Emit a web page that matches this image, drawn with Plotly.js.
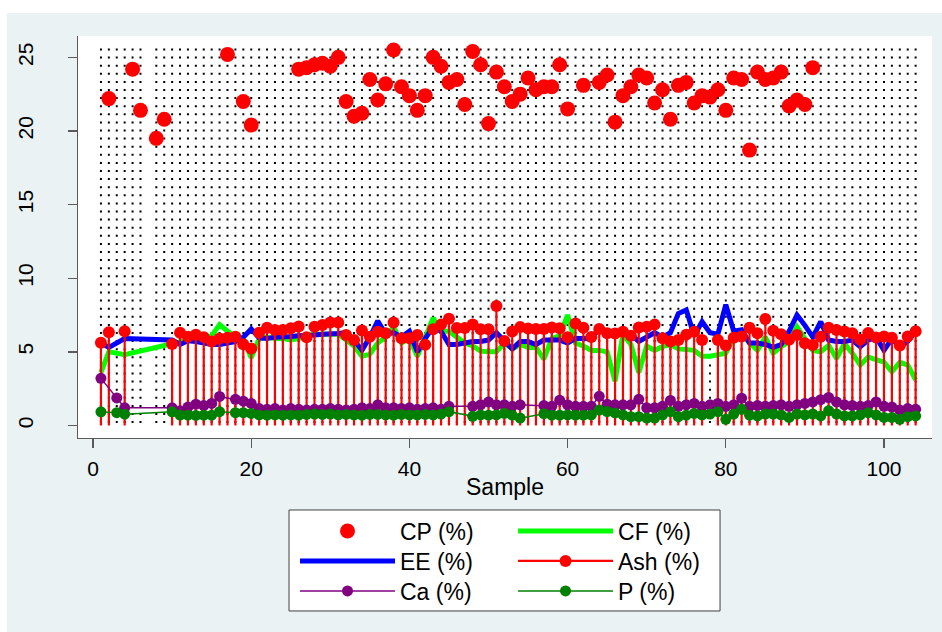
<!DOCTYPE html>
<html><head><meta charset="utf-8">
<script src="https://cdn.plot.ly/plotly-3.0.1.min.js"></script>
<style>
html,body{margin:0;padding:0;background:#fff;}
#chart{position:absolute;left:7px;top:13px;width:935px;height:619px;}
</style></head><body><div id="chart"></div>
<script>
const samples = [
1,2,3,4,5,6,7,8,9,10,11,12,13,14,15,16,17,18,19,20,
21,22,23,24,25,26,27,28,29,30,31,32,33,34,35,36,37,38,39,40,
41,42,43,44,45,46,47,48,49,50,51,52,53,54,55,56,57,58,59,60,
61,62,63,64,65,66,67,68,69,70,71,72,73,74,75,76,77,78,79,80,
81,82,83,84,85,86,87,88,89,90,91,92,93,94,95,96,97,98,99,100,
101,102,103,104];

const CP = [
null,22.2,null,null,24.2,21.4,null,19.5,20.8,null,
null,null,null,null,null,null,25.2,null,22.0,20.4,
null,null,null,null,null,24.2,24.3,24.5,24.6,24.4,
25.0,22.0,21.0,21.2,23.5,22.1,23.2,25.5,23.0,22.4,
21.4,22.4,25.0,24.4,23.3,23.5,21.8,25.4,24.5,20.5,
24.0,23.0,22.0,22.5,23.6,22.8,23.0,23.0,24.5,21.5,
null,23.1,null,23.3,23.8,20.6,22.4,23.0,23.8,23.6,
21.9,22.8,20.8,23.1,23.3,21.9,22.4,22.3,22.8,21.4,
23.6,23.5,18.7,24.0,23.5,23.6,24.0,21.7,22.1,21.8,
24.3,null,null,null,null,null,null,null,null,null,
null,null,null,null];

const CF = [
3.6,5.0,null,4.8,null,null,null,null,null,5.5,
5.7,5.8,5.8,5.9,6.1,6.85,6.4,6.0,5.9,4.6,
5.9,6.0,5.9,5.9,5.8,5.9,6.1,6.2,6.2,6.2,
6.2,5.8,5.4,4.7,4.85,5.6,6.0,6.7,5.6,5.9,
4.7,6.0,7.3,6.4,6.4,6.0,5.6,5.4,5.05,5.0,
5.0,5.6,5.2,5.5,5.3,5.3,4.5,5.9,6.1,7.5,
5.6,5.4,5.1,5.1,5.0,3.0,6.2,5.5,3.6,5.4,
5.1,5.35,5.5,5.2,5.15,5.1,4.7,4.7,4.8,4.9,
6.0,6.2,5.6,5.1,6.0,4.9,5.35,5.7,6.7,5.9,
5.1,5.0,5.45,4.55,5.55,4.9,4.1,4.65,4.45,4.3,
3.65,4.3,4.1,3.1];

const EE = [
5.6,5.3,null,5.9,null,null,null,null,null,5.8,
5.5,5.75,5.7,5.6,5.5,5.5,5.6,5.7,6.0,6.55,
5.95,5.9,6.0,6.0,6.05,6.1,6.1,6.15,6.2,6.2,
6.25,6.3,5.8,5.1,6.0,7.1,6.2,6.3,6.0,6.4,
5.0,5.9,6.7,6.4,5.5,5.5,5.6,5.7,5.7,5.8,
6.3,5.8,5.2,5.7,5.7,5.5,5.8,5.8,5.8,5.6,
5.9,5.9,5.9,6.6,6.4,6.2,6.3,6.2,5.7,6.05,
6.3,6.0,6.3,7.6,7.85,6.1,7.05,6.3,6.2,8.2,
6.4,6.5,5.6,5.6,5.5,5.3,5.5,6.4,7.5,6.8,
6.0,7.05,5.8,5.7,5.7,5.8,5.35,5.8,6.0,5.1,
5.9,5.3,5.7,6.4];

const Ash = [
5.62,6.33,null,6.4,null,null,null,null,null,5.53,
6.3,6.03,6.16,6.0,5.7,5.9,5.96,6.02,5.52,5.23,
6.29,6.63,6.49,6.49,6.6,6.72,5.99,6.7,6.82,7.0,
7.0,6.14,5.8,6.45,6.03,6.37,6.26,7.0,5.92,5.92,
6.14,5.48,6.53,6.85,7.25,6.62,6.62,6.86,6.54,6.54,
8.12,5.74,6.38,6.68,6.58,6.55,6.55,6.66,6.6,5.99,
6.92,6.64,6.01,6.55,6.27,6.25,6.37,6.1,6.65,6.7,
6.85,5.92,5.7,5.8,6.17,6.37,5.8,null,5.8,5.43,
5.96,6.05,6.63,6.26,7.23,6.44,6.2,5.82,6.14,5.58,
5.46,6.03,6.63,6.48,6.39,6.26,5.82,6.28,5.97,6.05,
5.96,5.43,6.05,6.4];

const Ca = [
3.2,null,1.87,1.2,null,null,null,null,null,1.2,
1.0,1.25,1.45,1.35,1.5,1.97,null,1.78,1.65,1.5,
1.15,1.1,1.15,1.05,1.15,1.1,1.05,1.1,1.1,1.15,
1.1,1.05,1.1,1.2,1.15,1.4,1.2,1.2,1.15,1.2,
1.1,1.15,1.2,1.1,1.3,null,null,1.3,1.4,1.6,
1.4,1.4,1.3,1.4,null,null,1.35,1.3,1.72,1.4,
1.3,1.3,1.3,1.98,1.45,1.4,1.4,1.4,1.78,1.2,
1.2,1.3,1.7,1.3,1.4,1.5,1.3,1.4,1.5,1.3,
1.4,1.85,1.3,1.35,1.3,1.35,1.4,1.3,1.4,1.5,
1.6,1.75,1.9,1.6,1.4,1.35,1.3,1.35,1.6,1.3,
1.25,1.05,1.15,1.1];

const P = [
0.93,null,0.87,0.77,null,null,null,null,null,0.93,
0.71,0.7,0.68,0.7,0.7,0.94,null,0.87,0.87,0.82,
0.72,0.7,0.72,0.7,0.72,0.7,0.75,0.78,0.75,0.78,
0.72,0.75,0.72,0.7,0.75,0.75,0.72,0.7,0.75,0.72,
0.72,0.75,0.72,0.78,0.94,null,null,0.62,0.72,0.7,
0.72,0.83,0.7,0.5,null,null,0.8,0.7,0.7,0.72,
0.7,0.7,0.72,1.05,0.95,0.85,0.72,0.6,0.6,0.5,
0.5,0.72,0.94,0.6,0.7,0.82,0.72,0.78,0.94,0.42,
0.78,1.1,0.7,0.65,0.78,0.78,0.72,0.55,0.78,0.72,
0.78,0.65,1.0,0.78,0.65,0.65,0.72,0.87,0.72,0.55,
0.55,0.42,0.6,0.65];

// dotted sample guides: drawn at every sample except those listed
const guideMissing = [7];
const guideTop = 25.6;

const xTicks = [0, 20, 40, 60, 80, 100];
const yTicks = [0, 5, 10, 15, 20, 25];

const RED = '#FF0000', BLUE = '#0000FF', LIME = '#00FF00', PURPLE = '#800080', DKGREEN = '#008000';
const FONT = 'Liberation Sans, Arial, Helvetica, sans-serif';
const AXC = '#5a5a5a';

// guide lines
const gX = [], gY = [];
samples.forEach(s => { if (!guideMissing.includes(s)) { gX.push(s, s, null); gY.push(guideTop, 0, null); } });

// Ash drop lines
const aX = [], aY = [], aC = [];
samples.forEach((s, i) => {
  if (Ash[i] !== null) { aX.push(s, s, null); aY.push(Ash[i], 0, null); aC.push(RED, 'rgba(0,0,0,0)', RED); }
});

const traces = [
  {x: gX, y: gY, mode: 'lines', line: {color: '#000', width: 2, dash: '2px,6.1px'}, showlegend: false, hoverinfo: 'skip'},
  {x: samples, y: CP, name: 'CP (%)', mode: 'markers', marker: {color: RED, size: 15}, legend: 'legend'},
  {x: samples, y: CF, name: 'CF (%)', mode: 'lines', connectgaps: true, line: {color: LIME, width: 5}, legend: 'legend2'},
  {x: samples, y: EE, name: 'EE (%)', mode: 'lines', connectgaps: true, line: {color: BLUE, width: 5}, legend: 'legend3'},
  {x: aX, y: aY, name: 'Ash (%)', mode: 'lines+markers', connectgaps: false, line: {color: RED, width: 2.2},
   marker: {color: aC, size: 12, line: {width: 0}}, legend: 'legend4'},
  {x: samples, y: Ca, name: 'Ca (%)', mode: 'lines+markers', connectgaps: true, line: {color: PURPLE, width: 1.5},
   marker: {color: PURPLE, size: 11}, legend: 'legend5'},
  {x: samples, y: P, name: 'P (%)', mode: 'lines+markers', connectgaps: true, line: {color: DKGREEN, width: 1.5},
   marker: {color: DKGREEN, size: 11}, legend: 'legend6'}
];

const legBase = {orientation: 'v', xanchor: 'left', yanchor: 'top', bgcolor: 'rgba(255,255,255,0)', borderwidth: 0,
  font: {family: FONT, size: 23, color: '#000'}, itemwidth: 95, tracegroupgap: 0, itemclick: false, itemdoubleclick: false};
const colX = [0.2541, 0.5094];
const rowY = [-0.1779, -0.2525, -0.3271];

const layout = {
  width: 935, height: 619,
  margin: {l: 71, r: 10, t: 23, b: 194, autoexpand: false},
  paper_bgcolor: '#EAF2F3', plot_bgcolor: '#FFFFFF',
  font: {family: FONT, color: '#000'},
  showlegend: true,
  hovermode: false,
  xaxis: {range: [-1.9, 106.07], tickvals: xTicks, ticktext: xTicks.map(String), ticks: 'outside', ticklen: 9, tickwidth: 1.3,
    tickcolor: AXC, showline: true, linecolor: AXC, linewidth: 1.3, showgrid: false, zeroline: false,
    tickfont: {family: FONT, size: 21, color: '#000'}, ticklabelstandoff: 2,
    title: {text: 'Sample', font: {family: FONT, size: 23, color: '#000'}, standoff: 0}},
  yaxis: {range: [-0.85, 26.45], tickvals: yTicks, ticktext: yTicks.map(String), ticks: 'outside', ticklen: 9, tickwidth: 1.3,
    tickcolor: AXC, showline: true, linecolor: AXC, linewidth: 1.3, showgrid: false, zeroline: false, tickangle: -90,
    tickfont: {family: FONT, size: 21, color: '#000'}, ticklabelstandoff: 26},
  legend:  Object.assign({}, legBase, {x: colX[0], y: rowY[0]}),
  legend2: Object.assign({}, legBase, {x: colX[1], y: rowY[0]}),
  legend3: Object.assign({}, legBase, {x: colX[0], y: rowY[1]}),
  legend4: Object.assign({}, legBase, {x: colX[1], y: rowY[1]}),
  legend5: Object.assign({}, legBase, {x: colX[0], y: rowY[2]}),
  legend6: Object.assign({}, legBase, {x: colX[1], y: rowY[2]}),
  shapes: [{type: 'rect', xref: 'paper', yref: 'paper', x0: 0.2471, x1: 0.7518, y0: -0.4303, y1: -0.1791,
    fillcolor: '#FFFFFF', line: {color: '#404040', width: 1}, layer: 'above'}]
};

Plotly.newPlot('chart', traces, layout, {displayModeBar: false, staticPlot: true});
</script></body></html>
